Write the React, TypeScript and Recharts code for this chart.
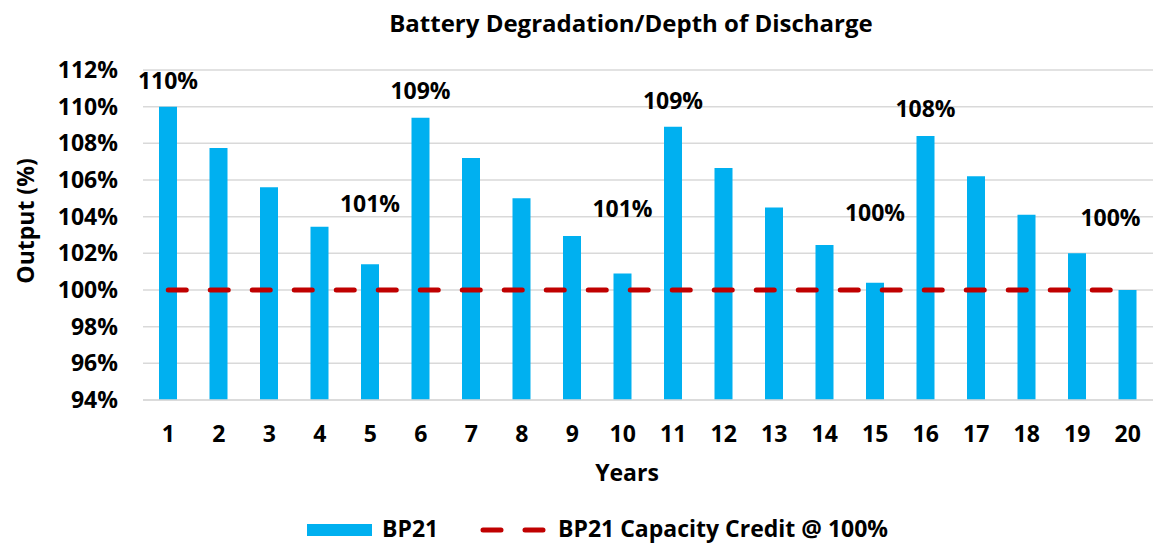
import React from 'react';
import { Bar, Line, XAxis, YAxis, CartesianGrid, LabelList, ComposedChart } from 'recharts';

const years = [1, 2, 3, 4, 5, 6, 7, 8, 9, 10, 11, 12, 13, 14, 15, 16, 17, 18, 19, 20];
const bp21 = [110.0, 107.75, 105.6, 103.45, 101.4, 109.4, 107.2, 105.0, 102.95, 100.9, 108.9, 106.65, 104.5, 102.45, 100.4, 108.4, 106.2, 104.1, 102.0, 100.0];
const capacityCredit = [100, 100, 100, 100, 100, 100, 100, 100, 100, 100, 100, 100, 100, 100, 100, 100, 100, 100, 100, 100];
const labeledYears = [1, 5, 6, 10, 11, 15, 16, 20];
const yTicks = [94, 96, 98, 100, 102, 104, 106, 108, 110, 112];
const seriesNames = ['BP21', 'BP21 Capacity Credit @ 100%'];

const data = years.map((y, i) => ({ year: y, bp21: bp21[i], credit: capacityCredit[i] }));

const FONT = '"Open Sans", "Liberation Sans", sans-serif';
const BLUE = '#00b0f0';
const RED = '#c00000';
const FS = 23;

// label placement tweaks (style, not data)
const LABEL_LIFT: Record<number, number> = { 1: 27, 5: 61, 6: 28, 10: 66, 11: 27, 15: 71, 16: 28, 20: 73 };
const LABEL_SHIFT: Record<number, number> = { 20: -17 };

const renderLabel = (props: any) => {
  const { x, y, width, index, value } = props;
  const yr = years[index];
  if (!labeledYears.includes(yr)) return null;
  const lift = LABEL_LIFT[yr] ?? 27;
  const shift = LABEL_SHIFT[yr] ?? 0;
  return (
    <text
      x={x + width / 2 + shift}
      y={y - lift}
      textAnchor="middle"
      dominantBaseline="central"
      fontFamily={FONT}
      fontWeight={700}
      fontSize={FS}
      fill="#000"
    >
      {Math.round(value)}%
    </text>
  );
};

export default function App() {
  return (
    <div style={{ position: 'absolute', left: 0, top: 0, width: 1153, height: 543, background: '#fff', overflow: 'hidden' }}>
      <ComposedChart
        width={1153}
        height={543}
        data={data}
        margin={{ top: 70, right: 0, bottom: 113, left: 0 }}
        barCategoryGap={0}
      >
        <CartesianGrid vertical={false} stroke="#d9d9d9" strokeWidth={1.5} />
        <XAxis
          dataKey="year"
          height={30}
          axisLine={{ stroke: '#d9d9d9', strokeWidth: 1.5 }}
          tickLine={false}
          tickSize={0}
          tickMargin={26}
          interval={0}
          tick={{ fontFamily: FONT, fontWeight: 700, fontSize: FS, fill: '#000' }}
        />
        <YAxis
          domain={[94, 112]}
          ticks={yTicks}
          interval={0}
          allowDataOverflow
          width={143}
          axisLine={false}
          tickLine={false}
          tickSize={0}
          tickMargin={25}
          tickFormatter={(v: number) => `${v}%`}
          tick={{ fontFamily: FONT, fontWeight: 700, fontSize: FS, fill: '#000' }}
        />
        <Bar dataKey="bp21" name={seriesNames[0]} fill={BLUE} barSize={18} isAnimationActive={false}>
          <LabelList dataKey="bp21" content={renderLabel} />
        </Bar>
        <Line
          dataKey="credit"
          name={seriesNames[1]}
          stroke={RED}
          strokeWidth={5}
          strokeLinecap="round"
          strokeDasharray="18 24"
          dot={false}
          activeDot={false}
          isAnimationActive={false}
        />
      </ComposedChart>
      <svg width={1153} height={543} style={{ position: 'absolute', left: 0, top: 0, pointerEvents: 'none' }}>
        <text x={631} y={22} textAnchor="middle" dominantBaseline="central" fontFamily={FONT} fontWeight={700} fontSize={24} fill="#000">
          Battery Degradation/Depth of Discharge
        </text>
        <text x={627} y={472} textAnchor="middle" dominantBaseline="central" fontFamily={FONT} fontWeight={700} fontSize={FS} fill="#000">
          Years
        </text>
        <text
          x={25}
          y={221}
          textAnchor="middle"
          dominantBaseline="central"
          transform="rotate(-90 25 221)"
          fontFamily={FONT}
          fontWeight={700}
          fontSize={FS}
          fill="#000"
        >
          Output (%)
        </text>
        <g>
          <rect x={307} y={524} width={65} height={12} fill={BLUE} />
          <text x={382} y={528} dominantBaseline="central" fontFamily={FONT} fontWeight={700} fontSize={FS} fill="#000">
            {seriesNames[0]}
          </text>
          <line x1={483} y1={530} x2={543} y2={530} stroke={RED} strokeWidth={5} strokeLinecap="round" strokeDasharray="18 24" />
          <text x={558} y={528} dominantBaseline="central" fontFamily={FONT} fontWeight={700} fontSize={FS} fill="#000">
            {seriesNames[1]}
          </text>
        </g>
      </svg>
    </div>
  );
}
